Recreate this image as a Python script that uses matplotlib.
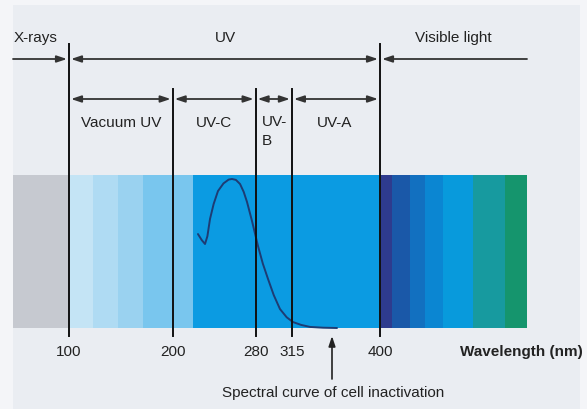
import matplotlib
matplotlib.use("Agg")
import matplotlib.pyplot as plt
from matplotlib.patches import Rectangle

plt.rcParams['font.family'] = ['Liberation Sans', 'DejaVu Sans']

# ---- data ----
boundaries = [100, 200, 280, 315, 400]           # wavelength tick positions (nm)
tick_labels = ["100", "200", "280", "315", "400"]
major_labels = ["X-rays", "UV", "Visible light"]
sub_labels = ["Vacuum UV", "UV-C", "UV-\nB", "UV-A"]
stripe_edges = [46, 100, 123, 147, 171, 220, 400, 412, 429, 443, 461, 490, 521, 542]
stripe_colors = ['#c6c9d0', '#c4e4f5', '#afdbf3', '#9ad2f0', '#79c6ee', '#0b9be2',
                 '#2e3b8e', '#1a58a8', '#1270c0', '#0b86d2', '#089adc', '#179a9f', '#15956d']
curve_nm = [224.4, 228.0, 231.2, 233.5, 236.0, 239.5, 243.7, 249.0, 254.0, 257.2, 261.0,
            265.0, 268.5, 271.7, 276.5, 282.3, 287.0, 292.0, 297.5, 303.5, 310.0, 316.0,
            324.0, 332.5, 345.0, 358.5]
curve_val = [0.614, 0.575, 0.549, 0.600, 0.712, 0.810, 0.895, 0.945, 0.970, 0.974, 0.968,
             0.941, 0.890, 0.824, 0.700, 0.536, 0.420, 0.320, 0.215, 0.124, 0.070, 0.039,
             0.020, 0.007, 0.002, 0.000]

# ---- layout helpers (pixel -> data) ----
W, H = 587, 410
K = 1.0367
def X(px):
    return 100 + (px - 69) / K
def Y(py):
    return (329 - py) / 153.0

fig = plt.figure(figsize=(W / 100, H / 100), dpi=100)
fig.patch.set_facecolor('#f4f5f8')
ax = fig.add_axes([0, 0, 1, 1])
ax.set_xlim(X(0), X(W))
ax.set_ylim(Y(H), Y(0))
ax.axis('off')

# background panel
ax.add_patch(Rectangle((X(13), Y(410)), X(580) - X(13), Y(6) - Y(410),
                       facecolor='#eaedf2', edgecolor='none', zorder=0))

# spectrum band
for i, c in enumerate(stripe_colors):
    ax.add_patch(Rectangle((stripe_edges[i], 0), stripe_edges[i + 1] - stripe_edges[i], 1,
                           facecolor=c, edgecolor='none', zorder=1))

# inactivation curve
ax.plot(curve_nm, curve_val, color='#1d3c74', lw=1.4, zorder=3, solid_capstyle='round')

# vertical boundary lines
tops = [45, 90, 90, 90, 45]
for b, t in zip(boundaries, tops):
    ax.plot([b, b], [Y(t), Y(337)], color='#111111', lw=1.4, zorder=4)

# arrows
def arrow(x0, x1, ypx, style):
    ax.annotate('', xy=(x1, Y(ypx)), xytext=(x0, Y(ypx)),
                arrowprops=dict(arrowstyle=style + ',head_length=0.6,head_width=0.2',
                                color='#333333', lw=1.3, shrinkA=0, shrinkB=0,
                                mutation_scale=10), zorder=5)

gap = 2 / K
# top row
arrow(X(13), boundaries[0] - gap, 60, '-|>')
arrow(boundaries[0] + gap, boundaries[4] - gap, 60, '<|-|>')
arrow(X(527), boundaries[4] + gap, 60, '-|>')
# second row
for a, b in zip(boundaries[:-1], boundaries[1:]):
    arrow(a + gap, b - gap, 100, '<|-|>')

fs = 11
tc = '#222222'
ax.text(X(14), Y(38), major_labels[0], ha='left', va='center', fontsize=fs, color=tc)
ax.text(X(225), Y(38), major_labels[1], ha='center', va='center', fontsize=fs, color=tc)
ax.text(X(453), Y(38), major_labels[2], ha='center', va='center', fontsize=fs, color=tc)

ax.text(X(121), Y(123), sub_labels[0], ha='center', va='center', fontsize=fs, color=tc)
ax.text(X(214), Y(123), sub_labels[1], ha='center', va='center', fontsize=fs, color=tc)
ax.text(X(262), Y(115), sub_labels[2], ha='left', va='top', fontsize=fs, color=tc,
        linespacing=1.45)
ax.text(X(335), Y(123), sub_labels[3], ha='center', va='center', fontsize=fs, color=tc)

for b, lab in zip(boundaries, tick_labels):
    ax.text(b, Y(352), lab, ha='center', va='center', fontsize=fs, color=tc)
ax.text(X(460), Y(352), "Wavelength (nm)", ha='left', va='center', fontsize=fs,
        fontweight='bold', color=tc)

ax.annotate('', xy=(X(332), Y(337)), xytext=(X(332), Y(380)),
            arrowprops=dict(arrowstyle='-|>,head_length=0.6,head_width=0.2', color='#222222',
                            lw=1.2, shrinkA=0, shrinkB=0, mutation_scale=10))
ax.text(X(333), Y(393), "Spectral curve of cell inactivation", ha='center', va='center',
        fontsize=fs, color=tc)

fig.savefig('out.png', dpi=100, facecolor=fig.get_facecolor())
